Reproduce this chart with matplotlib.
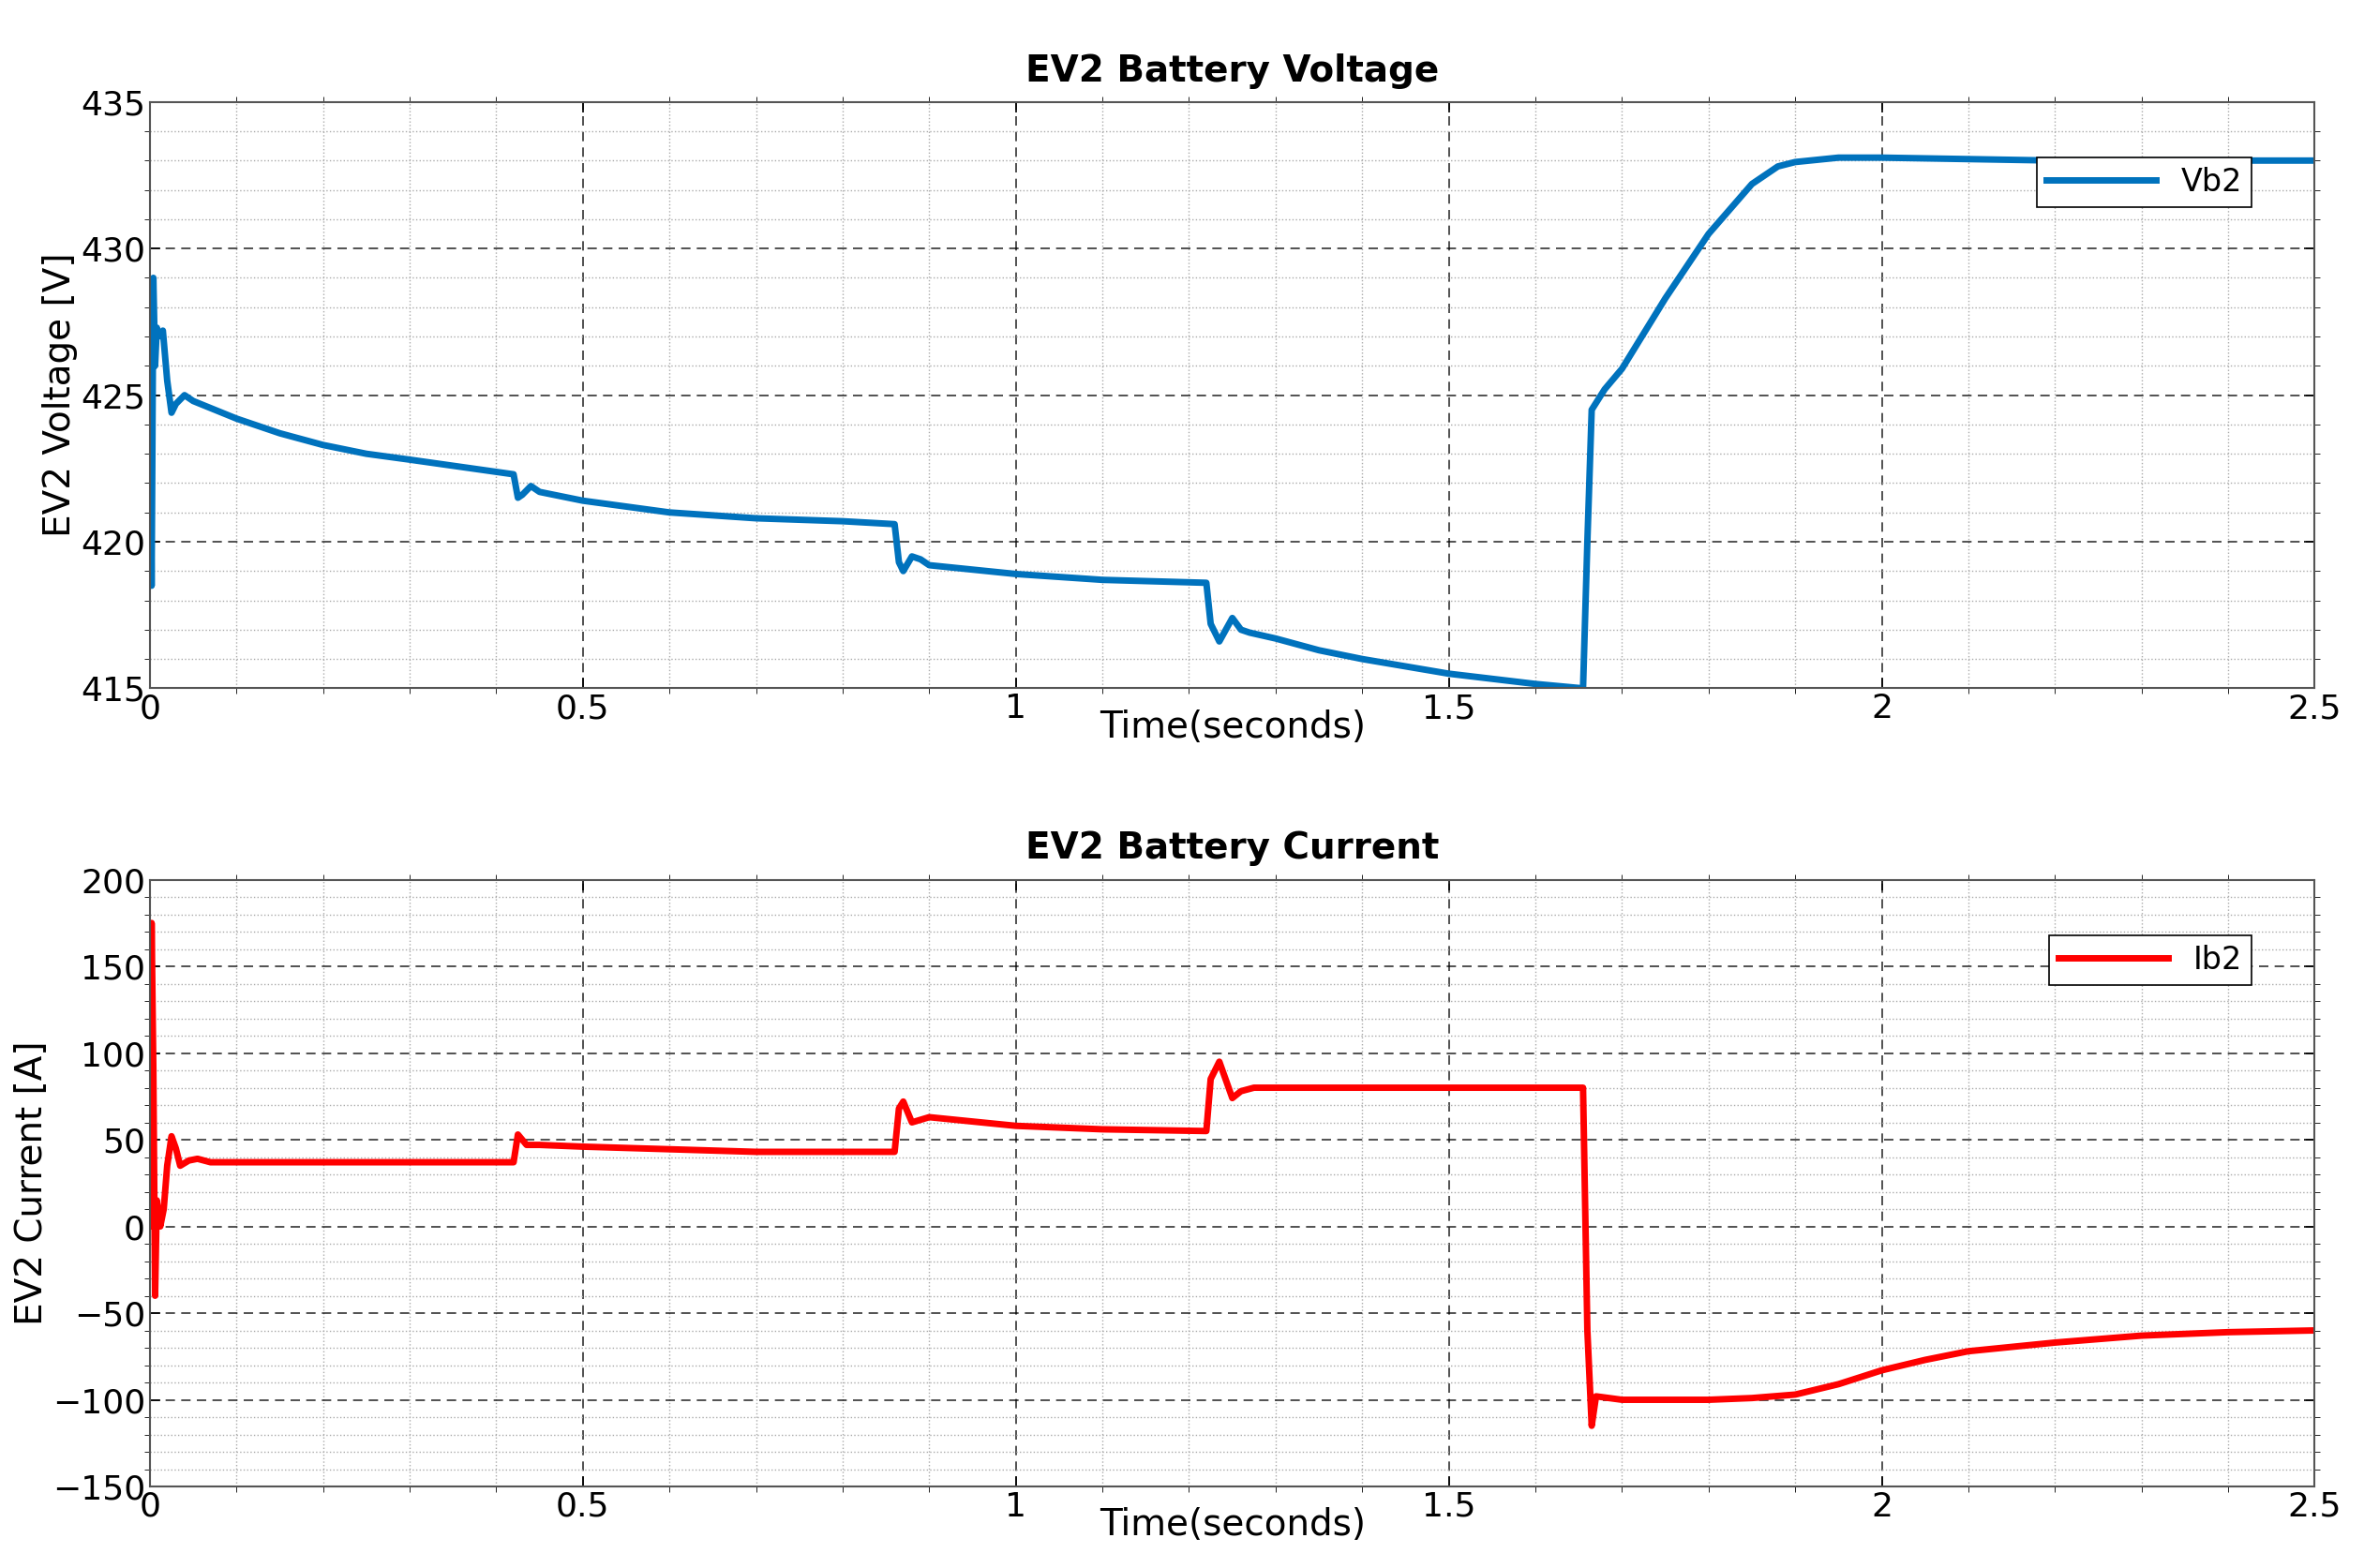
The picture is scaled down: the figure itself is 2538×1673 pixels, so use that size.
import numpy as np
import matplotlib
matplotlib.use('Agg')
import matplotlib.pyplot as plt
from matplotlib.ticker import MultipleLocator

# Battery voltage
t_v = [0, 0.002, 0.004, 0.006, 0.008, 0.01, 0.015, 0.02, 0.025, 0.03, 0.04, 0.05,
       0.1, 0.15, 0.2, 0.25, 0.3, 0.42, 0.425, 0.43, 0.44, 0.45, 0.5, 0.55, 0.6, 0.7, 0.8, 0.86,
       0.865, 0.87, 0.88, 0.89, 0.9, 1.0, 1.1, 1.22, 1.225, 1.235, 1.25, 1.26,
       1.27, 1.3, 1.35, 1.4, 1.5, 1.6, 1.655, 1.66, 1.665, 1.68, 1.7, 1.75, 1.8, 1.85,
       1.88, 1.9, 1.95, 2.0, 2.2, 2.5]
vb2 = [427, 418.5, 429, 426, 427.3, 427, 427.2, 425.5, 424.4, 424.7, 425, 424.8,
       424.2, 423.7, 423.3, 423.0, 422.8, 422.3, 421.5, 421.6, 421.9, 421.7, 421.4, 421.2, 421.0, 420.8,
       420.7, 420.6, 419.3, 419.0, 419.5, 419.4, 419.2, 418.9, 418.7, 418.6, 417.2,
       416.6, 417.4, 417.0, 416.9, 416.7, 416.3, 416.0, 415.5, 415.15, 415.0, 420, 424.5,
       425.2, 425.9, 428.3, 430.5, 432.2, 432.8, 432.95, 433.1, 433.1, 433.0, 433.0]

# Battery current
t_i = [0, 0.002, 0.004, 0.006, 0.008, 0.012, 0.016, 0.02, 0.025, 0.03, 0.035,
       0.045, 0.055, 0.07, 0.2, 0.42, 0.425, 0.435, 0.45, 0.5, 0.7, 0.86, 0.865,
       0.87, 0.88, 0.9, 1.0, 1.1, 1.22, 1.225, 1.235, 1.25, 1.26, 1.275, 1.3,
       1.655, 1.66, 1.665, 1.67, 1.7, 1.8, 1.85, 1.9, 1.95, 2.0, 2.05, 2.1, 2.2, 2.3, 2.4, 2.5]
ib2 = [0, 175, 90, -40, 15, 0, 10, 35, 52, 45, 35, 38, 39, 37, 37, 37, 53, 47,
       47, 46, 43, 43, 68, 72, 60, 63, 58, 56, 55, 85, 95, 74, 78, 80, 80, 80,
       -60, -115, -98, -100, -100, -99, -97, -91, -83, -77, -72, -67, -63, -61, -60]

fig = plt.figure(figsize=(25.38, 16.73), dpi=100)
ax1 = fig.add_axes([0.063, 0.561, 0.91, 0.374])
ax2 = fig.add_axes([0.063, 0.052, 0.91, 0.387])

def style(ax, title, ylabel, ymin, ymax, ymaj, ymin_step):
    ax.set_xlim(0, 2.5)
    ax.set_ylim(ymin, ymax)
    ax.xaxis.set_minor_locator(MultipleLocator(0.1))
    ax.yaxis.set_major_locator(MultipleLocator(ymaj))
    ax.yaxis.set_minor_locator(MultipleLocator(ymin_step))
    ax.set_xticks([0, 0.5, 1, 1.5, 2, 2.5])
    ax.set_xticklabels(['0', '0.5', '1', '1.5', '2', '2.5'])
    ax.grid(which='major', color='black', linestyle=(0, (6, 4)), linewidth=1.2, alpha=0.8)
    ax.grid(which='minor', color='#aaaaaa', linestyle=':', linewidth=1.0)
    ax.tick_params(labelsize=26, direction='in', length=8, width=1.2, top=True, right=True)
    ax.tick_params(which='minor', length=4, top=True, right=True)
    ax.set_title(title, fontsize=28, fontweight='bold', pad=16)
    ax.set_ylabel(ylabel, fontsize=28, labelpad=2)
    ax.set_xlabel('Time(seconds)', fontsize=28, labelpad=-12)
    for s in ax.spines.values():
        s.set_color('#555555')
        s.set_linewidth(1.5)
    leg = ax.legend(loc='upper right', fontsize=24, fancybox=False, framealpha=1,
                    edgecolor='black', handlelength=3.5, borderaxespad=1.2,
                    bbox_to_anchor=(0.988, 0.97), borderpad=0.3)
    leg.get_frame().set_linewidth(1.2)

ax1.plot(t_v, vb2, color='#0072BD', linewidth=5, label='Vb2')
style(ax1, 'EV2 Battery Voltage', 'EV2 Voltage [V]', 415, 435, 5, 1)
ax2.plot(t_i, ib2, color='#FF0000', linewidth=5, label='Ib2')
style(ax2, 'EV2 Battery Current', 'EV2 Current [A]', -150, 200, 50, 10)

fig.savefig('out.png', dpi=100)
